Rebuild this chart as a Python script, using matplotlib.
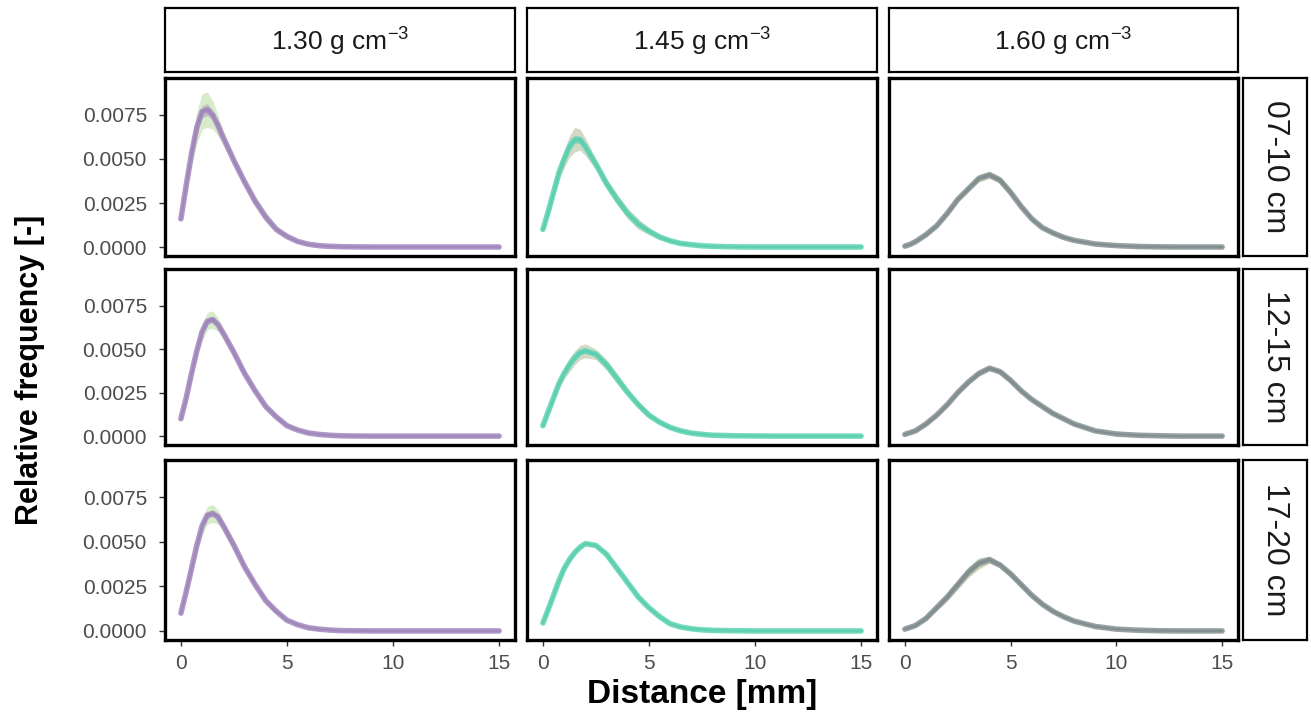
import numpy as np
import matplotlib
matplotlib.use("Agg")
import matplotlib.pyplot as plt

plt.rcParams["font.family"] = ["Liberation Sans", "DejaVu Sans"]
plt.rcParams["mathtext.default"] = "regular"

W, H = 1311, 717

# distance grid [mm]
X_MM = [0, 0.25, 0.5, 0.75, 1, 1.25, 1.5, 1.75, 2, 2.5, 3, 3.5, 4, 4.5, 5,
        5.5, 6, 6.5, 7, 7.5, 8, 9, 10, 11, 12, 13, 14, 15]

DENSITIES = ["1.30 g cm$^{-3}$", "1.45 g cm$^{-3}$", "1.60 g cm$^{-3}$"]
DEPTHS = ["07-10 cm", "12-15 cm", "17-20 cm"]

# mean relative frequency, one list per density / depth
F130_0710 = [0.0016, 0.0035, 0.0053, 0.0068, 0.0077, 0.0078, 0.0075, 0.0069, 0.0062, 0.0049,
             0.0037, 0.0026, 0.0017, 0.0010, 0.0006, 0.00032, 0.00016, 0.00008, 0.00004, 0.00002,
             0.00001, 0, 0, 0, 0, 0, 0, 0]
F145_0710 = [0.0010, 0.0020, 0.0031, 0.0042, 0.0050, 0.0057, 0.0061, 0.0061, 0.0057, 0.0047,
             0.0036, 0.0027, 0.0019, 0.0013, 0.0009, 0.00057, 0.00035, 0.0002, 0.00013, 0.00007,
             0.00004, 0.00001, 0, 0, 0, 0, 0, 0]
F160_0710 = [0.00005, 0.00015, 0.0003, 0.0005, 0.0007, 0.00095, 0.0012, 0.00155, 0.0019, 0.0027,
             0.0033, 0.0039, 0.0041, 0.0038, 0.0031, 0.0023, 0.0016, 0.0011, 0.0008, 0.00055,
             0.00038, 0.00017, 0.00008, 0.00003, 0.00001, 0, 0, 0]
F130_1215 = [0.0010, 0.0022, 0.0036, 0.0049, 0.0060, 0.0066, 0.0067, 0.0064, 0.0059, 0.0048,
             0.0036, 0.0026, 0.0017, 0.0011, 0.0006, 0.00035, 0.00018, 0.0001, 0.00005, 0.00002,
             0.00001, 0, 0, 0, 0, 0, 0, 0]
F145_1215 = [0.0006, 0.0014, 0.0022, 0.0030, 0.0036, 0.0041, 0.0045, 0.0048, 0.0049, 0.0047,
             0.0041, 0.0033, 0.0025, 0.0018, 0.0012, 0.0008, 0.0005, 0.0003, 0.00017, 0.0001,
             0.00005, 0.00002, 0.00001, 0, 0, 0, 0, 0]
F160_1215 = [0.0001, 0.0002, 0.0003, 0.0005, 0.0007, 0.00095, 0.0012, 0.0015, 0.0018, 0.0025,
             0.0031, 0.0036, 0.0039, 0.0037, 0.0032, 0.0026, 0.0021, 0.0017, 0.0013, 0.0010,
             0.0007, 0.0003, 0.00012, 0.00005, 0.00002, 0, 0, 0]
F130_1720 = [0.0010, 0.0022, 0.0035, 0.0048, 0.0059, 0.0065, 0.0066, 0.0064, 0.0059, 0.0048,
             0.0036, 0.0026, 0.0017, 0.0011, 0.0006, 0.00035, 0.00018, 0.0001, 0.00005, 0.00002,
             0.00001, 0, 0, 0, 0, 0, 0, 0]
F145_1720 = [0.00045, 0.0012, 0.0020, 0.0028, 0.0035, 0.0040, 0.0044, 0.0047, 0.0049, 0.0048,
             0.0043, 0.0035, 0.0027, 0.0019, 0.0013, 0.0008, 0.0004, 0.00022, 0.00012, 0.00006,
             0.00003, 0.00001, 0, 0, 0, 0, 0, 0]
F160_1720 = [0.0001, 0.0002, 0.0003, 0.0005, 0.0007, 0.0010, 0.0013, 0.0016, 0.0019, 0.0026,
             0.0033, 0.0038, 0.0040, 0.0037, 0.0032, 0.0026, 0.0020, 0.0015, 0.0011, 0.0008,
             0.00055, 0.00025, 0.0001, 0.00004, 0.00001, 0, 0, 0]

# half width of the shaded band around each mean
S130_0710 = [0.0001, 0.0004, 0.0007, 0.0009, 0.0010, 0.0010, 0.0008, 0.0006, 0.0004, 0.0003,
             0.0003, 0.0003, 0.0003, 0.0002, 0.00015, 0.0001, 0.00005, 0.00003, 0.00002, 0.00001,
             0, 0, 0, 0, 0, 0, 0, 0]
S145_0710 = [0.0001, 0.0002, 0.0003, 0.0004, 0.0005, 0.0006, 0.0007, 0.0006, 0.0005, 0.0003,
             0.0003, 0.0003, 0.0003, 0.0003, 0.0002, 0.00015, 0.0001, 0.00007, 0.00005, 0.00003,
             0.00002, 0.00001, 0, 0, 0, 0, 0, 0]
S160_0710 = [0, 0.00003, 0.00005, 0.00007, 0.0001, 0.0001, 0.0001, 0.0001, 0.0001, 0.00012,
             0.00015, 0.0002, 0.0002, 0.0002, 0.00015, 0.00012, 0.0001, 0.0001, 0.0001, 0.00008,
             0.00006, 0.00004, 0.00002, 0.00001, 0, 0, 0, 0]
S130_1215 = [0.0001, 0.0002, 0.0003, 0.0004, 0.0005, 0.0005, 0.0005, 0.0004, 0.0003, 0.0003,
             0.00025, 0.0002, 0.0002, 0.00015, 0.0001, 0.00008, 0.00005, 0.00003, 0.00002, 0.00001,
             0, 0, 0, 0, 0, 0, 0, 0]
S145_1215 = [0.0001, 0.0001, 0.0002, 0.0003, 0.0003, 0.0004, 0.0004, 0.0004, 0.0004, 0.0003,
             0.0003, 0.0003, 0.0002, 0.0002, 0.00015, 0.0001, 0.00008, 0.00005, 0.00003, 0.00002,
             0.00001, 0, 0, 0, 0, 0, 0, 0]
S160_1215 = [0, 0.00003, 0.00005, 0.00007, 0.0001, 0.0001, 0.0001, 0.0001, 0.00012, 0.00012,
             0.00015, 0.00015, 0.00015, 0.00015, 0.00015, 0.00012, 0.0001, 0.0001, 0.0001, 0.00008,
             0.00006, 0.00004, 0.00002, 0.00001, 0, 0, 0, 0]
S130_1720 = [0.0001, 0.0002, 0.0003, 0.0004, 0.0005, 0.0005, 0.0005, 0.0004, 0.0003, 0.0003,
             0.00025, 0.0002, 0.0002, 0.00015, 0.0001, 0.00008, 0.00005, 0.00003, 0.00002, 0.00001,
             0, 0, 0, 0, 0, 0, 0, 0]
S145_1720 = [0.00003, 0.00005, 0.00006, 0.00007, 0.00008, 0.00008, 0.00008, 0.00008, 0.00008, 0.00008,
             0.00008, 0.00008, 0.00007, 0.00006, 0.00005, 0.00004, 0.00003, 0.00002, 0.00001, 0.00001,
             0, 0, 0, 0, 0, 0, 0, 0]
S160_1720 = [0, 0.00003, 0.00005, 0.00008, 0.0001, 0.00012, 0.00015, 0.0002, 0.00022, 0.00026,
             0.0003, 0.0003, 0.0002, 0.00015, 0.00015, 0.00012, 0.0001, 0.0001, 0.0001, 0.00008,
             0.00006, 0.00004, 0.00002, 0.00001, 0, 0, 0, 0]

FREQ = [[F130_0710, F145_0710, F160_0710],
        [F130_1215, F145_1215, F160_1215],
        [F130_1720, F145_1720, F160_1720]]
SPREAD = [[S130_0710, S145_0710, S160_0710],
          [S130_1215, S145_1215, S160_1215],
          [S130_1720, S145_1720, S160_1720]]

LINE_COLORS = ["#a88cc4", "#62d6b6", "#8b979a"]
CORE_COLORS = ["#937aab", "#4ec4a3", "#6f7b7c"]
BAND_COLORS = ["#d3eac3", "#cdd5bf", "#bfc9ab"]

COL_X = [(165, 515), (527, 877), (889, 1238)]
ROW_Y = [(78, 256), (269, 445), (460, 640)]
TOP_STRIP = (8, 72)
RIGHT_STRIP = (1243, 1307)


def px_axes(fig, x0, x1, y0, y1):
    return fig.add_axes([x0 / W, 1 - y1 / H, (x1 - x0) / W, (y1 - y0) / H])


def strip(fig, x0, x1, y0, y1, text, rot, size):
    ax = px_axes(fig, x0, x1, y0, y1)
    ax.set_xticks([])
    ax.set_yticks([])
    for s in ax.spines.values():
        s.set_linewidth(1.6)
        s.set_color("black")
    ax.text(0.5, 0.47 if rot == 0 else 0.5, text, transform=ax.transAxes,
            ha="center", va="center", fontsize=size, rotation=rot, color="#1a1a1a")


def main():
    fig = plt.figure(figsize=(W / 100, H / 100), dpi=100)
    x = np.array(X_MM)

    for j, (x0, x1) in enumerate(COL_X):
        strip(fig, x0, x1, TOP_STRIP[0], TOP_STRIP[1], DENSITIES[j], 0, 19)
    for i, (y0, y1) in enumerate(ROW_Y):
        strip(fig, RIGHT_STRIP[0], RIGHT_STRIP[1], y0, y1, DEPTHS[i], -90, 23)

    for i, (y0, y1) in enumerate(ROW_Y):
        for j, (x0, x1) in enumerate(COL_X):
            ax = px_axes(fig, x0, x1, y0, y1)
            m = np.array(FREQ[i][j])
            s = np.array(SPREAD[i][j])
            ax.fill_between(x, m - s, m + s, color=BAND_COLORS[j], lw=0, alpha=0.9)
            ax.fill_between(x, m - 0.35 * s, m + 0.35 * s, color=CORE_COLORS[j],
                            lw=0, alpha=0.35)
            ax.plot(x, m, color=LINE_COLORS[j], lw=4.0, alpha=0.9,
                    solid_capstyle="round", solid_joinstyle="round")
            ax.plot(x, m, color=CORE_COLORS[j], lw=1.6, alpha=0.45)

            ax.set_xlim(-0.75, 15.75)
            ax.set_ylim(-0.00051, 0.0096)
            ax.set_xticks([0, 5, 10, 15])
            ax.set_yticks([0, 0.0025, 0.005, 0.0075])
            ax.yaxis.set_major_formatter(plt.FormatStrFormatter("%.4f"))
            ax.tick_params(length=4, width=1, color="#333333", labelcolor="#4d4d4d",
                           labelsize=15)
            ax.tick_params(axis="y", pad=9)
            ax.tick_params(axis="x", pad=6)
            if j > 0:
                ax.tick_params(labelleft=False, left=False)
            if i < 2:
                ax.tick_params(labelbottom=False, bottom=False)
            for sp in ax.spines.values():
                sp.set_linewidth(2.4)
                sp.set_color("black")

    fig.text(702 / W, 1 - 694 / H, "Distance [mm]", ha="center", va="center",
             fontsize=24, fontweight="bold")
    fig.text(30 / W, 1 - 370 / H, "Relative frequency [-]", ha="center", va="center",
             fontsize=22, fontweight="bold", rotation=90)

    fig.savefig("out.png", dpi=100)


if __name__ == "__main__":
    main()
